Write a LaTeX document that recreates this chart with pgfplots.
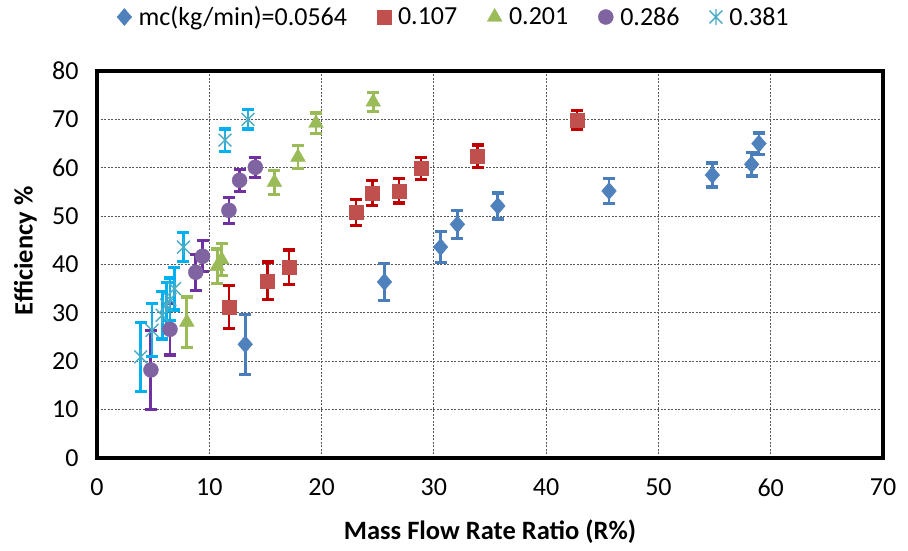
\documentclass[border=0pt]{standalone}
\usepackage{pgfplots}
\pgfplotsset{compat=1.18}
\usepackage{fontspec}
\setmainfont{Carlito}
\definecolor{mB}{HTML}{4F81BD}
\definecolor{eB}{HTML}{4A7EBB}
\definecolor{mR}{HTML}{C0504D}
\definecolor{eR}{HTML}{C00000}
\definecolor{mG}{HTML}{9BBB59}
\definecolor{eG}{HTML}{9BBB59}
\definecolor{mP}{HTML}{8064A2}
\definecolor{eP}{HTML}{7030A0}
\definecolor{mC}{HTML}{4BACC6}
\definecolor{eC}{HTML}{00B0F0}
\pgfdeclareplotmark{xstar}{%
  \pgfpathmoveto{\pgfqpoint{0pt}{\pgfplotmarksize}}%
  \pgfpathlineto{\pgfqpoint{0pt}{-\pgfplotmarksize}}%
  \pgfpathmoveto{\pgfqpoint{-0.8\pgfplotmarksize}{0.8\pgfplotmarksize}}%
  \pgfpathlineto{\pgfqpoint{0.8\pgfplotmarksize}{-0.8\pgfplotmarksize}}%
  \pgfpathmoveto{\pgfqpoint{-0.8\pgfplotmarksize}{-0.8\pgfplotmarksize}}%
  \pgfpathlineto{\pgfqpoint{0.8\pgfplotmarksize}{0.8\pgfplotmarksize}}%
  \pgfusepathqstroke}

\pgfplotstableread{
x y e
13.2 23.5 6.2
25.6 36.4 3.8
30.6 43.6 3.2
32.1 48.3 2.9
35.7 52.1 2.7
45.6 55.2 2.6
54.8 58.5 2.5
58.3 60.7 2.4
58.95 65.0 2.2
}\tblB
\pgfplotstableread{
x y e
11.75 31.2 4.5
15.2 36.6 3.9
17.1 39.4 3.6
23.06 50.8 2.7
24.5 54.8 2.6
26.9 55.2 2.5
28.85 59.9 2.3
33.9 62.4 2.3
42.75 69.9 2.0
}\tblR
\pgfplotstableread{
x y e
8.0 28.1 5.2
10.7 39.6 3.6
11.1 41.0 3.3
15.8 57.0 2.5
17.9 62.2 2.4
19.5 69.2 2.1
24.6 73.6 2.0
}\tblG
\pgfplotstableread{
x y e
4.8 18.2 8.2
6.5 26.6 5.3
8.8 38.4 3.7
9.4 41.7 3.2
11.75 51.2 2.7
12.7 57.4 2.3
14.1 60.1 2.1
}\tblP
\pgfplotstableread{
x y e
3.9 20.9 7.1
4.9 26.4 5.5
5.8 29.5 4.9
6.2 31.6 4.6
6.5 32.8 4.4
6.9 35.0 4.4
7.7 43.6 3.0
11.4 65.7 2.3
13.45 70.0 2.0
}\tblC

\begin{document}
\begin{tikzpicture}[x=1bp,y=1bp]
\useasboundingbox (0,0) rectangle (908,551);
\begin{axis}[
  at={(97bp,93bp)}, anchor=south west,
  scale only axis, width=786bp, height=387bp,
  xmin=0, xmax=70, ymin=0, ymax=80,
  xtick={0,10,...,70}, ytick={0,10,...,80},
  grid=major,
  major grid style={dash pattern=on 2bp off 1.5bp, black!65, line width=0.9bp},
  major tick length=0pt,
  axis line style={line width=3.2bp, black},
  tick label style={font=\fontsize{26bp}{30bp}\selectfont, text=black},
  /pgf/number format/assume math mode=true,
  xticklabel style={yshift=-17bp},
  yticklabel style={xshift=-15bp},
  xlabel={Mass Flow Rate Ratio (R\%)},
  ylabel={Efficiency \%},
  label style={font=\bfseries\fontsize{26.5bp}{30bp}\selectfont},
  xlabel style={at={(axis description cs:0.5,-0.191)}, anchor=center},
  ylabel style={at={(axis description cs:-0.091,0.535)}, anchor=center},
  legend columns=5,
  legend style={draw=none, fill=none, at={(axis description cs:0.454,1.1395)}, anchor=center,
    font=\fontsize{26bp}{30bp}\selectfont,
    /tikz/every odd column/.append style={column sep=5bp},
    /tikz/every even column/.append style={column sep=28bp}},
  legend cell align=left,
  error bars/y dir=both, error bars/y explicit,
]
\addplot[only marks, mark=diamond*, mark size=8.5bp, mark options={fill=mB, draw=mB, xscale=1.15},
  error bars/error bar style={line width=2.8bp, eB},
  error bars/error mark options={rotate=90, mark size=6bp, line width=3.2bp, eB}]
  table[x=x, y=y, y error=e] {\tblB};
\addlegendentry{mc(kg/min)=0.0564}
\addplot[only marks, mark=square*, mark size=7bp, mark options={fill=mR, draw=mR},
  error bars/error bar style={line width=2.8bp, eR},
  error bars/error mark options={rotate=90, mark size=6bp, line width=3.2bp, eR}]
  table[x=x, y=y, y error=e] {\tblR};
\addlegendentry{0.107}
\addplot[only marks, mark=triangle*, mark size=8.5bp, mark options={fill=mG, draw=mG},
  error bars/error bar style={line width=2.8bp, eG},
  error bars/error mark options={rotate=90, mark size=6bp, line width=3.2bp, eG}]
  table[x=x, y=y, y error=e] {\tblG};
\addlegendentry{0.201}
\addplot[only marks, mark=*, mark size=7.5bp, mark options={fill=mP, draw=mP},
  error bars/error bar style={line width=2.8bp, eP},
  error bars/error mark options={rotate=90, mark size=6bp, line width=3.2bp, eP}]
  table[x=x, y=y, y error=e] {\tblP};
\addlegendentry{0.286}
\addplot[only marks, mark=xstar, mark size=8bp, mark options={draw=mC, line width=1.4bp},
  error bars/error bar style={line width=2.8bp, eC},
  error bars/error mark options={rotate=90, mark size=6bp, line width=3.2bp, eC}]
  table[x=x, y=y, y error=e] {\tblC};
\addlegendentry{0.381}
\end{axis}
\end{tikzpicture}
\end{document}
